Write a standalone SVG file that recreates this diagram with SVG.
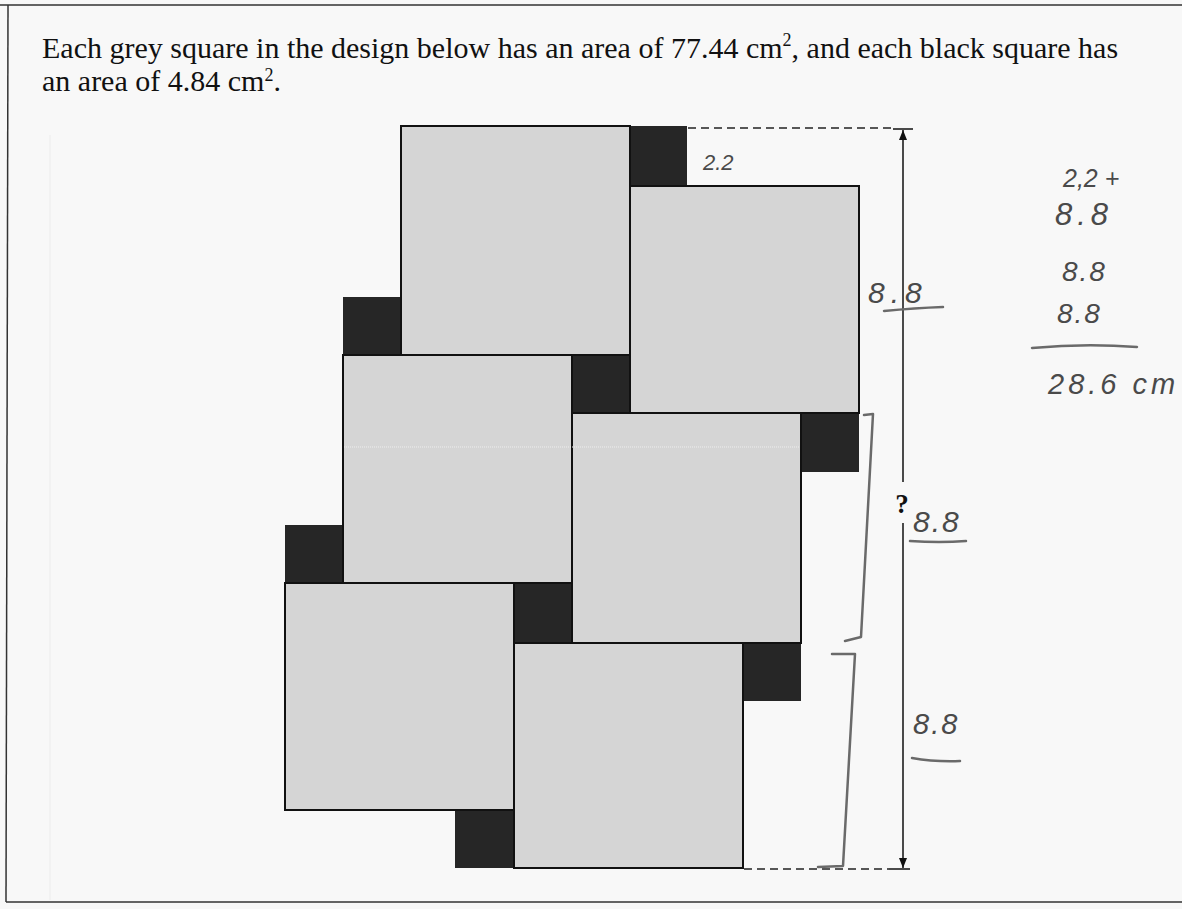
<svg xmlns="http://www.w3.org/2000/svg" width="1182" height="909" viewBox="0 0 1182 909">
<style>
.q{font-family:"Liberation Serif","Times New Roman",serif;font-size:30px;fill:#111}
.sup{font-size:18px}
.g{fill:#d5d5d5;stroke:#111;stroke-width:2}
.k{fill:#262626}
.hw{font-family:"Liberation Sans",Arial,sans-serif;font-style:italic;fill:#4a4a4a}
.pen{fill:none;stroke:#6a6a6a;stroke-width:2.5;stroke-linecap:round;stroke-linejoin:round}
.dim{stroke:#111;stroke-width:1.5;fill:none}
.dash{stroke:#222;stroke-width:1.5;stroke-dasharray:8 5;fill:none}
</style>
<defs>
<marker id="ah" viewBox="0 0 10 10" refX="10" refY="5" markerWidth="10" markerHeight="10" markerUnits="userSpaceOnUse" orient="auto">
<path d="M0,1 L10,5 L0,9 Z" fill="#111"/>
</marker>
</defs>
<rect width="1182" height="909" fill="#f8f8f8"/>
<g id="page-border" fill="none" stroke="#333" stroke-width="1.5">
<path d="M0,5 L1182,5"/>
<path d="M8,5 L6,902"/>
<path d="M6,902 L1182,902"/>
</g>
<path d="M50,135 L50,900" stroke="#ececec" stroke-width="1"/>
<g id="question">
<text class="q" x="42" y="58">Each grey square in the design below has an area of 77.44 cm<tspan class="sup" dy="-12">2</tspan><tspan dy="12">, and each black square has</tspan></text>
<text class="q" x="42" y="91">an area of 4.84 cm<tspan class="sup" dy="-10">2</tspan><tspan dy="10">.</tspan></text>
</g>
<g id="black-squares">
<rect id="k1" class="k" x="630" y="126" width="57" height="60"/>
<rect id="k2" class="k" x="343" y="297" width="58" height="58"/>
<rect id="k3" class="k" x="572" y="355" width="58" height="58"/>
<rect id="k4" class="k" x="801" y="413" width="58" height="59"/>
<rect id="k5" class="k" x="285" y="525" width="58" height="58"/>
<rect id="k6" class="k" x="514" y="583" width="58" height="60"/>
<rect id="k7" class="k" x="743" y="643" width="58" height="58"/>
<rect id="k8" class="k" x="455" y="810" width="59" height="58"/>
</g>
<g id="grey-squares">
<rect id="sqA" class="g" x="401" y="126" width="229" height="229"/>
<rect id="sqB" class="g" x="630" y="186" width="229" height="227"/>
<rect id="sqC" class="g" x="343" y="355" width="229" height="228"/>
<rect id="sqD" class="g" x="572" y="413" width="229" height="230"/>
<rect id="sqE" class="g" x="285" y="583" width="229" height="227"/>
<rect id="sqF" class="g" x="514" y="643" width="229" height="225"/>
</g>
<path d="M344,447 L800,447" stroke="#eeeeee" stroke-width="1" stroke-dasharray="1 1"/>
<g id="connectors">
<path class="dash" d="M688,128 L893,128"/>
<path class="dim" d="M893,129 L913,129"/>
<path class="dash" d="M744,869 L889,869"/>
<path class="dim" d="M889,869 L910,869"/>
<path class="dim" d="M903,482 L903,130" marker-end="url(#ah)"/>
<path class="dim" d="M903,523 L903,868" marker-end="url(#ah)"/>
<text x="902" y="513" text-anchor="middle" font-family="Liberation Serif,serif" font-weight="bold" font-size="27" fill="#111">?</text>
</g>
<g id="handwriting">
<text class="hw" x="703" y="170" font-size="22">2.2</text>
<text class="hw" x="868" y="303" font-size="30" letter-spacing="6">8.8</text>
<path class="pen" d="M884,311 Q915,308 943,307"/>
<text class="hw" x="913" y="532" font-size="30" letter-spacing="2">8.8</text>
<path class="pen" d="M910,541 Q940,543 966,541"/>
<text class="hw" x="913" y="734" font-size="29" letter-spacing="2">8.8</text>
<path class="pen" d="M912,758 Q935,762 960,761"/>
<path class="pen" d="M864,415 L873,414 L861,637 L845,641"/>
<path class="pen" d="M832,654 L855,654 L843,866 L818,867"/>
<text class="hw" x="1063" y="187" font-size="25">2,2 +</text>
<text class="hw" x="1055" y="225" font-size="31" letter-spacing="5">8.8</text>
<text class="hw" x="1062" y="281" font-size="28" letter-spacing="2">8.8</text>
<text class="hw" x="1057" y="323" font-size="28" letter-spacing="2">8.8</text>
<path class="pen" d="M1032,348 Q1085,343 1137,347"/>
<text class="hw" x="1048" y="394" font-size="29" letter-spacing="4">28.6 cm</text>
</g>
</svg>
